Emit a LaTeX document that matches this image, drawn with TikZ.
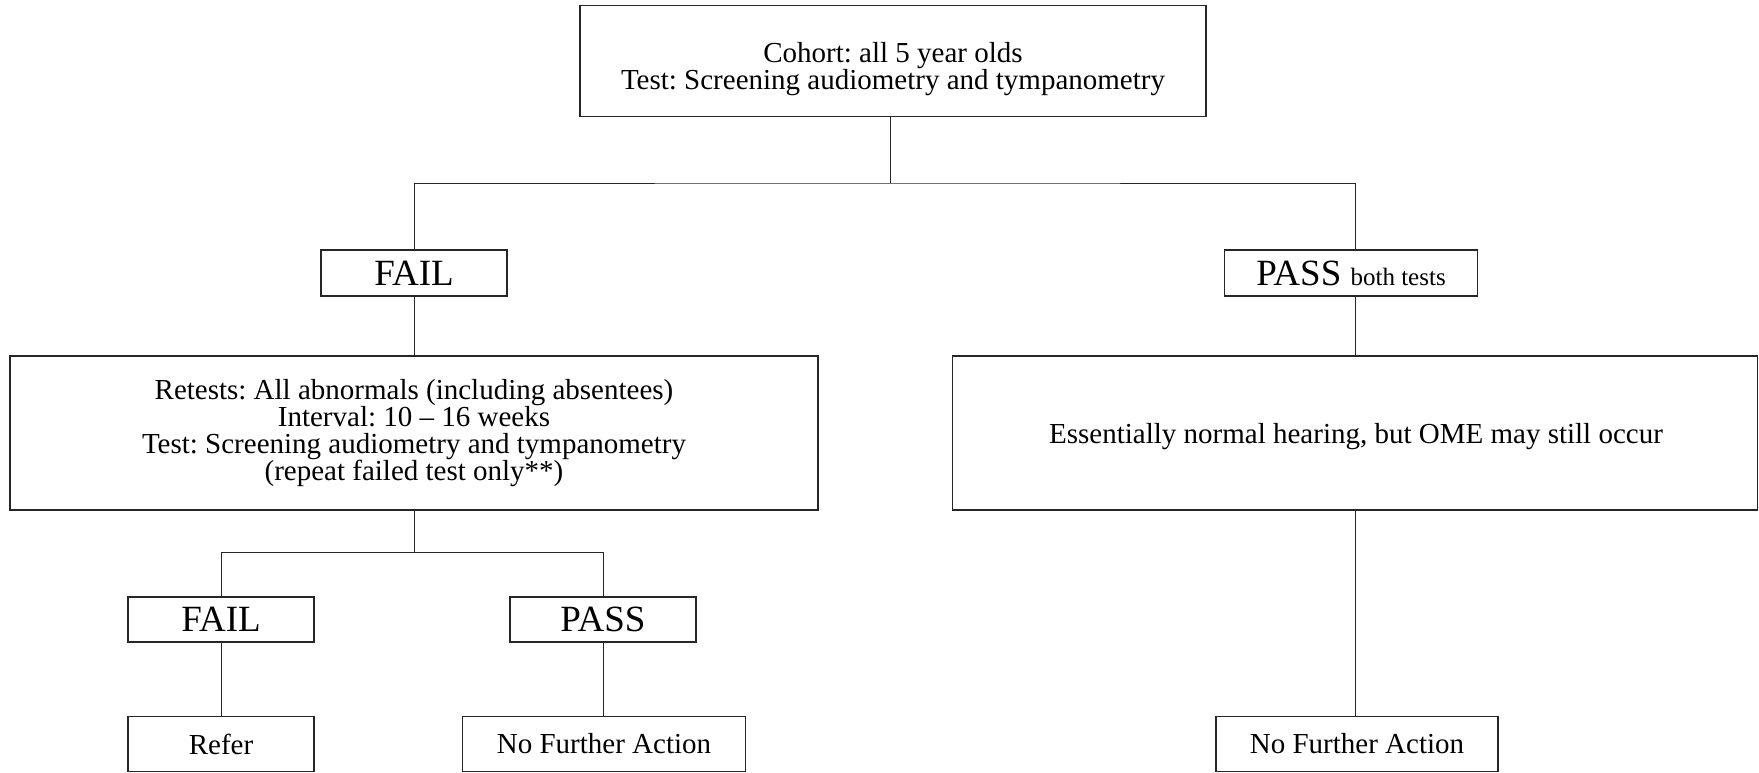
\documentclass[tikz,border=0pt]{standalone}
\usepackage{fontspec}
\setmainfont{Liberation Serif}
\newcommand{\bodyfont}{\frenchspacing\fontsize{29}{27}\selectfont}
\newcommand{\smallfont}{\fontsize{25}{27}\selectfont}
\newcommand{\bigfont}{\fontsize{37}{38}\selectfont}
\begin{document}
\begin{tikzpicture}[x=1pt,y=-1pt]
\tikzset{
  box/.style={draw=black!85, line width=1.3pt, inner sep=0pt, align=center, font=\bodyfont},
  txt/.style={inner sep=0pt, align=center, font=\bodyfont},
  conn/.style={draw=black!85, line width=1pt}
}
\useasboundingbox (0,0) rectangle (1759,772);
\node[box, minimum width=626pt, minimum height=111pt] (top) at (893,61) {};
\node[txt] (toptext) at (893,69)
  {Cohort: all 5 year olds\\Test: Screening audiometry and tympanometry};
\node[box, minimum width=186pt, minimum height=46pt] (fail1) at (414,273) {\bigfont FAIL};
\node[box, minimum width=253pt, minimum height=46pt] (pass1) at (1351,273) {\bigfont PASS \smallfont both tests};
\node[box, minimum width=808pt, minimum height=154pt] (retest) at (414,433)
  {Retests: All abnormals (including absentees)\\Interval: 10 -- 16 weeks\\Test: Screening audiometry and tympanometry\\(repeat failed test only**)};
\node[box, minimum width=805pt, minimum height=154pt] (normal) at (1355,433) {};
\node[txt] (normaltext) at (1356,437)
  {Essentially normal hearing, but OME may still occur};
\node[box, minimum width=186pt, minimum height=45pt] (fail2) at (221,619.5) {\bigfont FAIL};
\node[box, minimum width=186pt, minimum height=45pt] (pass2) at (603,619.5) {\bigfont PASS};
\node[box, minimum width=186pt, minimum height=55pt] (refer) at (221,744) {Refer};
\node[box, minimum width=283pt, minimum height=55pt] (nfa1) at (604,744) {No Further Action};
\node[box, minimum width=282pt, minimum height=55pt] (nfa2) at (1357,744) {No Further Action};
\coordinate (j1) at (890,183);
\coordinate (j2) at (414,552);
\draw[conn] (top.south -| j1) -- (j1);
\draw[conn] (fail1.north) |- (j1) -| (pass1.north -| normal.north);
\draw[conn] (fail1.south) -- (retest.north);
\draw[conn] (pass1.south -| normal.north) -- (normal.north);
\draw[conn] (retest.south) -- (j2);
\draw[conn] (fail2.north) |- (j2) -| (pass2.north);
\draw[conn] (fail2.south) -- (refer.north);
\draw[conn] (pass2.south) -- (pass2.south |- nfa1.north);
\draw[conn] (normal.south) -- (normal.south |- nfa2.north);
\end{tikzpicture}
\end{document}
